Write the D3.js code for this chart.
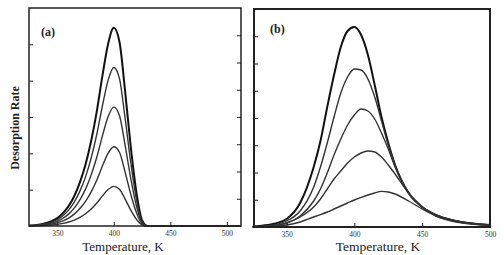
<!DOCTYPE html>
<html><head><meta charset="utf-8">
<script src="https://cdn.jsdelivr.net/npm/d3@7"></script>
<style>body{margin:0;background:#fff}svg{display:block}</style>
</head><body>
<script>
// ---- data ----
const tempA = [325,335,345,350,355,360,365,370,375,380,385,390,395,400,405,410,415,420,425,430,440,512];
const rateA1 = [0.002,0.008,0.025,0.04,0.065,0.10,0.15,0.22,0.31,0.43,0.58,0.76,0.92,1.0,0.93,0.68,0.40,0.17,0.03,0,0,0];
const rateA2 = [0.002,0.006,0.02,0.032,0.052,0.08,0.12,0.176,0.248,0.344,0.464,0.608,0.736,0.8,0.744,0.544,0.32,0.136,0.024,0,0,0];
const rateA3 = [0.001,0.005,0.015,0.024,0.039,0.06,0.09,0.132,0.186,0.258,0.348,0.456,0.552,0.6,0.558,0.408,0.24,0.102,0.018,0,0,0];
const rateA4 = [0.001,0.003,0.01,0.016,0.026,0.04,0.06,0.088,0.124,0.172,0.232,0.304,0.368,0.4,0.372,0.272,0.16,0.068,0.012,0,0,0];
const rateA5 = [0,0.002,0.005,0.008,0.013,0.02,0.03,0.044,0.062,0.086,0.116,0.152,0.184,0.2,0.186,0.136,0.08,0.034,0.006,0,0,0];

const tempB = [325,330,340,350,360,370,375,380,385,390,395,400,405,410,415,420,425,430,440,450,460,475,500];
const rateB1 = [0.002,0.005,0.015,0.04,0.12,0.30,0.43,0.60,0.76,0.90,0.98,1.0,0.96,0.86,0.71,0.55,0.42,0.31,0.17,0.10,0.06,0.03,0.01];
const rateB2 = [0.001,0.003,0.01,0.03,0.08,0.20,0.30,0.42,0.55,0.67,0.75,0.79,0.785,0.74,0.65,0.53,0.41,0.31,0.17,0.10,0.06,0.03,0.01];
const rateB3 = [0.001,0.002,0.007,0.02,0.055,0.13,0.19,0.27,0.36,0.44,0.51,0.56,0.59,0.58,0.54,0.47,0.39,0.30,0.17,0.10,0.06,0.03,0.01];
const rateB4 = [0,0.001,0.006,0.02,0.05,0.10,0.14,0.19,0.24,0.28,0.32,0.35,0.37,0.38,0.375,0.35,0.31,0.265,0.17,0.10,0.057,0.028,0.01];
const rateB5 = [0,0.001,0.004,0.01,0.025,0.05,0.062,0.075,0.09,0.105,0.12,0.135,0.148,0.16,0.17,0.178,0.175,0.165,0.13,0.09,0.055,0.025,0.008];

const xTickValues = [350,400,450,500];
const yTicksLeftA = [0.1833,0.3667,0.55,0.7333,0.9167];
const yTicksRightA = [0.1375,0.275,0.4125,0.55,0.6875,0.825,0.9625];
const yTicksLeftB = [0.13625,0.2725,0.40875,0.545,0.68125,0.8175,0.95375];
const panelLabels = ["(a)","(b)"];
const xTitle = "Temperature, K";
const yTitle = "Desorption Rate";

// ---- drawing ----
const W = 504, H = 255;
const svg = d3.select("body").append("svg").attr("width", W).attr("height", H);
const ink = "#222";
const serif = "'Liberation Serif','DejaVu Serif',serif";

function panel(cfg) {
  const g = svg.append("g");
  const x = d3.scaleLinear().domain(cfg.xDomain).range([cfg.left, cfg.right]);
  const y = d3.scaleLinear().domain(cfg.yDomain).range([cfg.bottom, cfg.top]);

  const line = d3.line().x(d => x(d[0])).y(d => y(d[1])).curve(d3.curveMonotoneX);
  cfg.series.forEach((s, i) => {
    g.append("path").datum(cfg.temps.map((t, j) => [t, s[j]]))
      .attr("d", line).attr("fill", "none")
      .attr("stroke", i === 0 ? "#111" : "#333")
      .attr("stroke-width", i === 0 ? 2 : 1.4);
  });

  // bottom axis
  const ax = g.append("g").attr("transform", `translate(0,${cfg.bottom})`)
    .call(d3.axisBottom(x).tickValues(xTickValues).tickSizeInner(-4).tickSizeOuter(0).tickPadding(5));
  ax.select(".domain").remove();
  ax.selectAll("line").attr("stroke", ink);
  ax.selectAll("text").attr("font-family", serif).attr("font-size", 7.5).attr("fill", "#333");

  if (cfg.leftTicks) {
    const al = g.append("g").attr("transform", `translate(${cfg.left},0)`)
      .call(d3.axisLeft(y).tickValues(cfg.leftTicks).tickSizeInner(-4).tickSizeOuter(0).tickFormat(""));
    al.select(".domain").remove();
    al.selectAll("line").attr("stroke", ink);
  }
  if (cfg.rightTicks) {
    const ar = g.append("g").attr("transform", `translate(${cfg.right},0)`)
      .call(d3.axisRight(y).tickValues(cfg.rightTicks).tickSizeInner(-4).tickSizeOuter(0).tickFormat(""));
    ar.select(".domain").remove();
    ar.selectAll("line").attr("stroke", ink);
  }

  g.append("rect").attr("x", cfg.left).attr("y", cfg.top)
    .attr("width", cfg.right - cfg.left).attr("height", cfg.bottom - cfg.top)
    .attr("fill", "none").attr("stroke", ink).attr("stroke-width", cfg.frameW);

  g.append("text").attr("x", cfg.labelX).attr("y", cfg.labelY)
    .attr("font-family", serif).attr("font-weight", "bold").attr("font-size", 12)
    .attr("fill", ink).text(cfg.label);

  g.append("text").attr("x", cfg.titleX).attr("y", cfg.titleY).attr("text-anchor", "middle")
    .attr("font-family", serif).attr("font-size", cfg.titleSize).attr("fill", ink).text(xTitle);
}

panel({
  left: 29, right: 241, top: 8, bottom: 226,
  xDomain: [325, 512.5], yDomain: [0, 1.1],
  temps: tempA, series: [rateA1, rateA2, rateA3, rateA4, rateA5],
  leftTicks: yTicksLeftA, rightTicks: yTicksRightA,
  label: panelLabels[0], labelX: 41, labelY: 36,
  titleX: 123, titleY: 251, titleSize: 13, frameW: 1.5
});
panel({
  left: 254, right: 490, top: 9, bottom: 227,
  xDomain: [326, 500], yDomain: [0, 1.09],
  temps: tempB, series: [rateB1, rateB2, rateB3, rateB4, rateB5],
  leftTicks: yTicksLeftB, rightTicks: null,
  label: panelLabels[1], labelX: 270, labelY: 33,
  titleX: 378, titleY: 251, titleSize: 13.5, frameW: 2
});

svg.append("text").attr("transform", "translate(19,128) rotate(-90)")
  .attr("text-anchor", "middle").attr("font-family", serif).attr("font-weight", "bold")
  .attr("font-size", 12).attr("fill", ink).text(yTitle);
</script>
</body></html>
